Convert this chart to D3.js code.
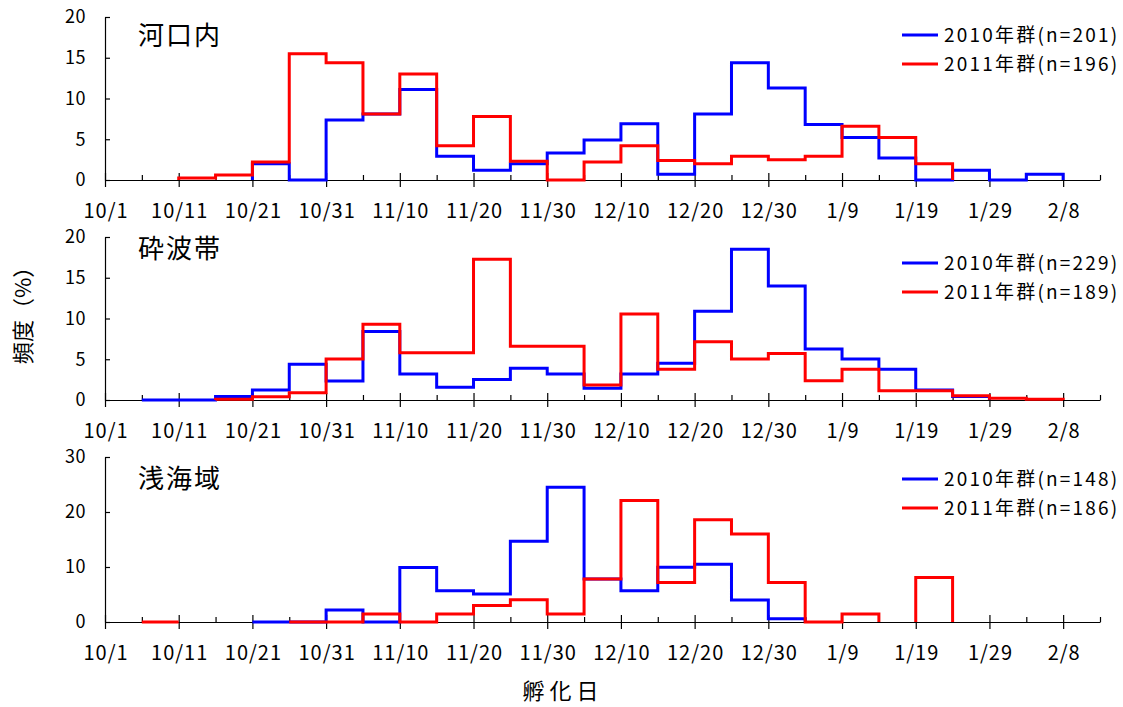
<!DOCTYPE html>
<html lang="ja">
<head>
<meta charset="utf-8">
<script src="https://cdn.jsdelivr.net/npm/d3@7"></script>
<style>
  html, body { margin: 0; padding: 0; background: #fff; }
  svg { display: block; font-family: "Noto Sans CJK JP", "Noto Sans", sans-serif; }
</style>
</head>
<body>
<svg id="chart" width="1123" height="707"></svg>
<script>
// Hatching-date frequency (%) in 5-day bins, counted in days from 10/1.
const binWidth = 5;

// X-axis tick labels (every 10 days from 10/1)
const dayTicks = [0, 10, 20, 30, 40, 50, 60, 70, 80, 90, 100, 110, 120, 130];
const dayLabels = ["10/1", "10/11", "10/21", "10/31", "11/10", "11/20", "11/30",
                   "12/10", "12/20", "12/30", "1/9", "1/19", "1/29", "2/8"];

const panelTitles = ["河口内", "砕波帯", "浅海域"];
const seriesNames = ["2010年群", "2011年群"];
const sampleSizes = [[201, 196], [229, 189], [148, 186]];
const yTickSets = [[0, 5, 10, 15, 20], [0, 5, 10, 15, 20], [0, 10, 20, 30]];
const yMaxes = [20, 20, 30];

// Start day of the first bin of each series
const startDays = [[20, 10], [5, 15], [20, 5]];

// 河口内
const kakou2010 = [2.0, 0, 7.35, 8.1, 11.1, 2.9, 1.2, 2.0, 3.3, 4.9, 6.9, 0.7,
                   8.1, 14.4, 11.3, 6.8, 5.2, 2.7, 0, 1.2, 0, 0.7];
const kakou2011 = [0.25, 0.6, 2.2, 15.5, 14.4, 8.1, 13.0, 4.2, 7.8, 2.3, 0, 2.2,
                   4.2, 2.4, 2.0, 2.9, 2.5, 2.9, 6.6, 5.2, 2.0];
// 砕波帯
const saiha2010 = [0, 0, 0.44, 1.23, 4.4, 2.33, 8.4, 3.2, 1.55, 2.53, 3.9, 3.2,
                   1.43, 3.2, 4.5, 10.9, 18.5, 14.0, 6.26, 5.03, 3.76, 1.23, 0.44];
const saiha2011 = [0.1, 0.4, 0.9, 5.03, 9.3, 5.8, 5.8, 17.26, 6.6, 6.6, 1.84, 10.55,
                   3.76, 7.16, 5.03, 5.7, 2.37, 3.76, 1.14, 1.14, 0.53, 0.2, 0.1];
// 浅海域 (null = no data in that bin)
const senkai2010 = [0, 0, 2.2, 0, 9.9, 5.66, 5.1, 14.7, 24.5, 7.8, 5.66, 9.94,
                    10.5, 4.0, 0.6];
const senkai2011 = [0, null, null, null, 0, 0, 1.45, 0, 1.45, 3.0, 4.03, 1.45,
                    7.8, 22.1, 7.2, 18.6, 16.0, 7.2, 0, 1.45, null, 8.07];

const panelSeries = [[kakou2010, kakou2011], [saiha2010, saiha2011], [senkai2010, senkai2011]];
const colors = ["#0000ff", "#ff0000"];

// Layout
const xLeft = 105, xRight = 1100;
const panelBox = [
  { top: 17, bottom: 180, title: 45, legend: 35 },
  { top: 237, bottom: 400, title: 258, legend: 263 },
  { top: 457, bottom: 622, title: 488, legend: 479 }
];

const svg = d3.select("#chart");
const x = d3.scaleLinear().domain([0, 135]).range([xLeft, xRight]);

// Build step outlines; each run of defined bins starts and ends at zero
function stepRuns(start, values) {
  const runs = [];
  let cur = null;
  values.forEach((v, i) => {
    const d0 = start + i * binWidth;
    if (v == null) {
      if (cur) { cur.push([d0, 0]); runs.push(cur); cur = null; }
      return;
    }
    if (!cur) cur = [[d0, 0]];
    cur.push([d0, v], [d0 + binWidth, v]);
  });
  if (cur) { cur.push([start + values.length * binWidth, 0]); runs.push(cur); }
  return runs;
}

const minorTicks = d3.range(0, 136, 5).filter(d => d % 10 !== 0);

panelBox.forEach((box, p) => {
  const y = d3.scaleLinear().domain([0, yMaxes[p]]).range([box.bottom, box.top]);
  const g = svg.append("g");

  // Y axis
  const yAxis = g.append("g")
    .attr("transform", `translate(${xLeft},0)`)
    .call(d3.axisLeft(y).tickValues(yTickSets[p]).tickSizeInner(-5).tickSizeOuter(0).tickPadding(19));
  yAxis.select(".domain").attr("stroke", "#000").attr("stroke-width", 1.2);
  yAxis.selectAll(".tick line").attr("stroke", "#000").attr("stroke-width", 1.2);
  yAxis.selectAll(".tick text").attr("font-size", 18).attr("fill", "#000")
    .attr("font-family", "Noto Sans CJK JP").attr("letter-spacing", 0.5);

  // X axis: major ticks cross the line, minor ticks point up
  const xAxis = g.append("g")
    .attr("transform", `translate(0,${box.bottom})`)
    .call(d3.axisBottom(x).tickValues(dayTicks)
      .tickFormat((d, i) => dayLabels[i]).tickSizeOuter(0).tickSizeInner(7).tickPadding(17));
  xAxis.select(".domain").attr("stroke", "#000").attr("stroke-width", 1.2);
  xAxis.selectAll(".tick line").attr("y1", -7).attr("y2", 7).attr("stroke", "#000").attr("stroke-width", 1.2);
  xAxis.selectAll(".tick text").attr("font-size", 20).attr("fill", "#000")
    .attr("font-family", "Noto Sans CJK JP").attr("letter-spacing", 1).attr("dx", 0.5);

  const xMinor = g.append("g")
    .attr("transform", `translate(0,${box.bottom})`)
    .call(d3.axisBottom(x).tickValues(minorTicks).tickFormat("").tickSizeOuter(0).tickSizeInner(-5));
  xMinor.select(".domain").remove();
  xMinor.selectAll(".tick line").attr("stroke", "#000").attr("stroke-width", 1.2);

  // Step lines (2011 drawn over 2010)
  const line = d3.line().x(d => x(d[0])).y(d => y(d[1]));
  panelSeries[p].forEach((vals, s) => {
    stepRuns(startDays[p][s], vals).forEach(run => {
      g.append("path")
        .attr("d", line(run))
        .attr("fill", "none")
        .attr("stroke", colors[s])
        .attr("stroke-width", 3)
        .attr("stroke-linejoin", "miter");
    });
  });

  // Panel title
  g.append("text")
    .attr("x", 138).attr("y", box.title)
    .attr("font-size", 26).attr("letter-spacing", 2)
    .attr("fill", "#000")
    .text(panelTitles[p]);

  // Legend
  seriesNames.forEach((name, s) => {
    const ly = box.legend + s * 29;
    g.append("line")
      .attr("x1", 902).attr("x2", 938).attr("y1", ly).attr("y2", ly)
      .attr("stroke", colors[s]).attr("stroke-width", 3);
    g.append("text")
      .attr("x", 944).attr("y", ly + 7)
      .attr("font-size", 19).attr("letter-spacing", 2.2).attr("fill", "#000")
      .text(`${name}(n=${sampleSizes[p][s]})`);
  });
});

// Axis titles
svg.append("text")
  .attr("transform", "translate(31,310) rotate(-90)")
  .attr("text-anchor", "middle")
  .attr("font-size", 22).attr("fill", "#000")
  .text("頻度（%）");

svg.append("text")
  .attr("x", 563).attr("y", 699)
  .attr("text-anchor", "middle")
  .attr("font-size", 22).attr("letter-spacing", 5)
  .attr("fill", "#000")
  .text("孵化日");
</script>
</body>
</html>
